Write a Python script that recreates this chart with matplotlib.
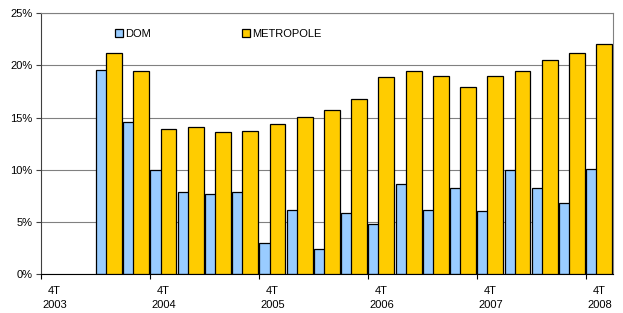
import numpy as np
import matplotlib
matplotlib.use('Agg')
import matplotlib.pyplot as plt
from matplotlib.patches import Patch

plt.rcParams['font.family'] = ['Liberation Sans', 'DejaVu Sans']

# Quarters shown on the axis, 4T 2003 .. 4T 2008 (21 categories)
quarters = ['4T\n2003', '1T\n2004', '2T\n2004', '3T\n2004', '4T\n2004',
            '1T\n2005', '2T\n2005', '3T\n2005', '4T\n2005',
            '1T\n2006', '2T\n2006', '3T\n2006', '4T\n2006',
            '1T\n2007', '2T\n2007', '3T\n2007', '4T\n2007',
            '1T\n2008', '2T\n2008', '3T\n2008', '4T\n2008']
first_bar = 2  # no data for the first two quarters

dom = [19.6, 14.6, 10.0, 7.9, 7.65, 7.85, 3.0, 6.2, 2.4, 5.85,
       4.85, 8.65, 6.15, 8.3, 6.1, 10.0, 8.3, 6.85, 10.05]
metropole = [21.2, 19.5, 13.9, 14.1, 13.6, 13.7, 14.4, 15.05, 15.75, 16.75,
             18.9, 19.5, 18.95, 17.9, 18.95, 19.45, 20.5, 21.2, 22.05]

color_dom = '#99CCFF'
color_met = '#FFCC00'
fs = 8

fig = plt.figure(figsize=(6.23, 3.13), dpi=100)
ax = fig.add_axes([0.0658, 0.1236, 0.984 - 0.0658, 0.834])

x = np.arange(first_bar, first_bar + len(dom))
width = 0.58
# DOM drawn first, METROPOLE overlaps it
ax.bar(x - 0.19, dom, width, color=color_dom, edgecolor='black', linewidth=0.9, zorder=2)
ax.bar(x + 0.18, metropole, width, color=color_met, edgecolor='black', linewidth=0.9, zorder=3)

ax.set_xlim(-0.5, len(quarters) - 0.5)
ax.set_ylim(0, 25)

# y axis
ax.set_yticks(np.arange(0, 26, 5))
ax.set_yticklabels(['%d%%' % v for v in range(0, 26, 5)])
ax.yaxis.grid(True, color='#808080', linewidth=0.8, zorder=0)
ax.set_axisbelow(True)
ax.tick_params(axis='y', length=3.5, width=0.8, labelsize=fs, pad=2.5, color='#404040')

# x axis: tick marks between categories every 4 quarters, labels at category centres
ax.set_xticks(np.arange(-0.5, len(quarters), 4))
ax.set_xticklabels([])
ax.set_xticks(np.arange(0, len(quarters), 4), minor=True)
ax.set_xticklabels(quarters[::4], minor=True, linespacing=1.5)
ax.tick_params(axis='x', which='major', length=3.5, width=0.8, color='black')
ax.tick_params(axis='x', which='minor', length=0, labelsize=fs, pad=8.5)

for side in ['top', 'right']:
    ax.spines[side].set_color('#808080')
    ax.spines[side].set_linewidth(0.8)
ax.spines['left'].set_color('#404040')
ax.spines['bottom'].set_color('black')
ax.spines['left'].set_linewidth(0.8)
ax.spines['bottom'].set_linewidth(0.8)

handles = [Patch(facecolor=color_dom, edgecolor='black', linewidth=0.9, label='DOM'),
           Patch(facecolor=color_met, edgecolor='black', linewidth=0.9, label='METROPOLE')]
fig.legend(handles=handles, loc='center left', bbox_to_anchor=(0.1846, 0.891),
           ncol=2, frameon=False, fontsize=fs, borderpad=0, borderaxespad=0,
           handlelength=0.7, handleheight=0.7, handletextpad=0.2,
           columnspacing=8.2)

fig.savefig('out.png', dpi=100)
